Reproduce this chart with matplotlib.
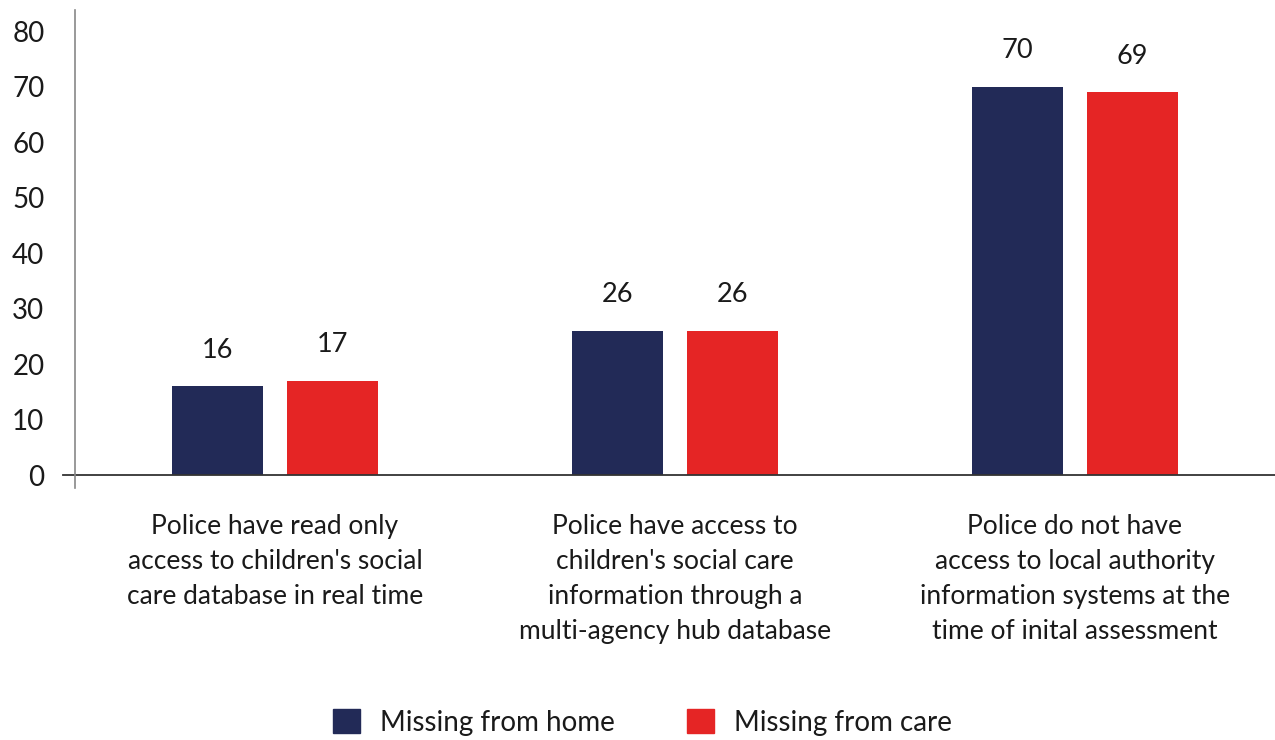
import numpy as np
import matplotlib.pyplot as plt
from matplotlib.patches import Patch

plt.rcParams['font.family'] = ['Lato', 'DejaVu Sans']

categories = [
    "Police have read only\naccess to children's social\ncare database in real time",
    "Police have access to\nchildren's social care\ninformation through a\nmulti-agency hub database",
    "Police do not have\naccess to local authority\ninformation systems at the\ntime of inital assessment",
]
series_names = ["Missing from home", "Missing from care"]
from_home = [16, 26, 70]
from_care = [17, 26, 69]
colors = ["#222a57", "#e52525"]
text_color = "#1a1a1a"

fig = plt.figure(figsize=(12.75, 7.4), dpi=100)
ax = fig.add_axes([0.0588, 0.3405, 0.9412, 0.646])

x = np.arange(len(categories))
w = 0.227
off = 0.1436
b1 = ax.bar(x - off, from_home, w, color=colors[0])
b2 = ax.bar(x + off, from_care, w, color=colors[1])

# value labels above each bar
for bars, vals in [(b1, from_home), (b2, from_care)]:
    for bar, v in zip(bars, vals):
        ax.annotate(str(v), (bar.get_x() + bar.get_width() / 2, v),
                    xytext=(0, 17), textcoords="offset points",
                    ha="center", va="bottom", fontsize=19.5, color=text_color)

ax.set_xlim(-0.5, 2.5)
ax.set_ylim(-2.34, 83.8)
ax.set_yticks(range(0, 81, 10))
ax.tick_params(axis="y", length=0, pad=22, labelsize=20, labelcolor=text_color)
ax.set_xticks([])

for s in ["top", "right", "bottom"]:
    ax.spines[s].set_visible(False)
ax.spines["left"].set_color("#888888")
ax.spines["left"].set_linewidth(1.2)
ax.axhline(0, xmin=-0.01, xmax=1, color="#333333", linewidth=1.3, clip_on=False)

for xi, label in zip(x, categories):
    ax.text(xi, -7.0, label, ha="center", va="top", fontsize=19,
            color=text_color, linespacing=1.5)

handles = [Patch(color=c) for c in colors]
fig.legend(handles, series_names, loc="center", bbox_to_anchor=(0.504, 0.024),
           ncol=2, frameon=False, fontsize=20, handlelength=0.97, handleheight=0.97,
           handletextpad=0.72, columnspacing=2.6, labelcolor=text_color)

fig.savefig("out.png", dpi=100)
